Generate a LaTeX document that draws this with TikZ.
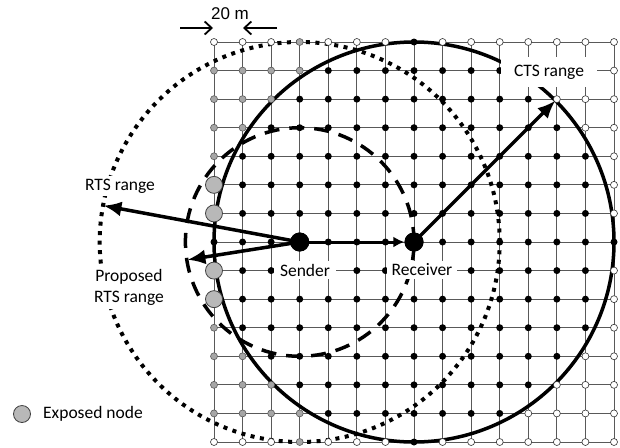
\documentclass[tikz,border=0pt]{standalone}
\usepackage{fontspec}
\setmainfont{Carlito}
\newfontfamily\arialfont{Liberation Sans}
\usetikzlibrary{arrows.meta}
\begin{document}
\begin{tikzpicture}[x=1pt,y=-1pt,
  gridline/.style={draw=black!65, line width=0.9pt},
  dotb/.style={circle, fill=black, inner sep=0pt, minimum size=7pt},
  dotg/.style={circle, draw=black!65, fill=black!35, line width=0.6pt, inner sep=0pt, minimum size=7pt},
  dotw/.style={circle, draw=black!80, fill=white, line width=0.6pt, inner sep=0pt, minimum size=7pt},
  exposed/.style={circle, draw=black!75, fill=black!28, line width=0.8pt, inner sep=0pt, minimum size=17pt},
  station/.style={circle, fill=black, inner sep=0pt, minimum size=19pt},
  lbl/.style={fill=white, inner sep=3pt, font=\fontsize{17.5}{21}\selectfont},
  ctsrange/.style={line width=3.5pt},
  rtsrange/.style={line width=4pt, dash pattern=on 4pt off 5.5pt},
  proprange/.style={line width=3.5pt, dash pattern=on 15pt off 10pt},
  bigarrow/.style={line width=3.5pt, -{Latex[length=18pt,width=15pt]}},
  smallarrow/.style={line width=3pt, -{Latex[length=11pt,width=11pt]}},
  scalearrow/.style={line width=1.8pt, -{Straight Barb[length=7pt,width=13pt]}},
]
\useasboundingbox (0,0) rectangle (620,447);
% grid
\foreach \k in {0,...,14} {
  \pgfmathsetmacro{\px}{214+\k*28.5714}
  \pgfmathsetmacro{\py}{42+\k*28.5714}
  \draw[gridline] (\px,42) -- (\px,442);
  \draw[gridline] (214,\py) -- (614,\py);
}
% stations
\node[station] (S) at (299.7,242) {};
\node[station] (R) at (414,242) {};
% ranges
\draw[ctsrange] (R.center) circle[radius=200pt];
\draw[rtsrange] (S.center) circle[radius=200pt];
\draw[proprange] (S.center) circle[radius=114.3pt];
% dots
\foreach \i in {0,...,14} {
  \foreach \j in {0,...,14} {
    \pgfmathtruncatemacro{\dr}{(\i-7)*(\i-7)+(\j-7)*(\j-7)}
    \pgfmathtruncatemacro{\ds}{(\i-3)*(\i-3)+(\j-7)*(\j-7)}
    \pgfmathsetmacro{\px}{214+\i*28.5714}
    \pgfmathsetmacro{\py}{42+\j*28.5714}
    \ifnum\ds=0 \else\ifnum\dr=0 \else
      \ifnum\dr<50 \def\st{dotb}\else
        \ifnum\ds<17 \def\st{exposed}\else
          \ifnum\ds<50 \def\st{dotg}\else\def\st{dotw}\fi
        \fi
      \fi
      \node[\st] (d-\i-\j) at (\px,\py) {};
    \fi\fi
  }
}
% arrows
\coordinate (rtsend) at (103.4,205.6);
\coordinate (propend) at (187.4,259.8);
\coordinate (ctsend) at (555.4,100.6);
\draw[bigarrow] (S.center) -- (rtsend);
\draw[bigarrow] (S.center) -- (propend);
\draw[bigarrow] (R.center) -- (ctsend);
\draw[smallarrow] (S) -- (R);
\node[station] at (S) {};
\node[station] at (R) {};
% labels
\node[lbl, inner xsep=13pt, inner ysep=8pt] (cts) at (549,72) {CTS range};
\node[lbl] (rts) at (120,186) {RTS range};
\node[lbl, align=center] (prts) at (129,287.5) {Proposed\\RTS range};
\node[lbl, inner xsep=6pt] (sl) at (305,270) {Sender};
\node[lbl, inner xsep=5pt] (rl) at (422,270) {Receiver};
% legend
\node[exposed] (leg) at (22,414) {};
\node[lbl, anchor=west] (legt) at (40,414) {Exposed node};
% scale
\node[font=\arialfont\fontsize{17}{20}\selectfont, inner sep=0pt] (scl) at (230,14) {20 m};
\coordinate (sa0) at (180,28);
\coordinate (sa1) at (213,28);
\coordinate (sb0) at (277,28);
\coordinate (sb1) at (243,28);
\draw[scalearrow] (sa0) -- (sa1);
\draw[scalearrow] (sb0) -- (sb1);
\end{tikzpicture}
\end{document}
